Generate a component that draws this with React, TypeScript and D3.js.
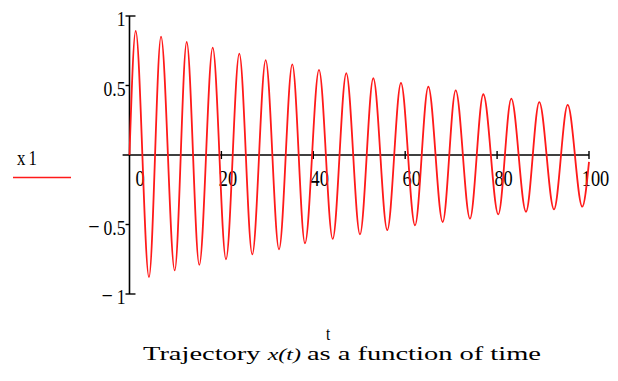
import React from "react";
import * as d3 from "d3";

// Extrema of the damped response x1(t), read at each peak and trough
const times = [
  0, 1.35, 4.24, 6.86, 9.84, 12.45, 15.19, 18.11, 21.0, 23.9, 26.72, 29.64,
  32.54, 35.43, 38.19, 41.24, 44.22, 47.18, 50.16, 53.06, 56.1, 59.08, 62.13,
  65.03, 68.16, 70.99, 74.1, 77.0, 80.26, 83.09, 86.29, 89.18, 92.38, 95.36,
  98.54, 100,
];
const x1 = [
  0.0, 0.892, -0.878, 0.851, -0.83, 0.813, -0.791, 0.772, -0.75, 0.729,
  -0.715, 0.683, -0.679, 0.652, -0.636, 0.612, -0.604, 0.588, -0.571, 0.552,
  -0.54, 0.518, -0.506, 0.491, -0.482, 0.465, -0.458, 0.437, -0.427, 0.405,
  -0.408, 0.381, -0.391, 0.36, -0.372, -0.05,
];

const xTicks = [0, 20, 40, 60, 80, 100];
const xTickLabels = ["0", "20", "40", "60", "80", "100"];
const yTicks = [1, 0.5, -0.5, -1];
const yTickLabels = ["1", "0.5", "0.5", "1"];

const W = 618;
const H = 381;
const FONT =
  '"Times New Roman", Times, "Liberation Serif", "DejaVu Serif", serif';
const RED = "#ff1a1a";
// horizontal condensing applied to labels so the serif face sits narrower
const SX = 0.8;

export default function App() {
  const x = d3.scaleLinear().domain([-1.5, 100]).range([122.6, 589]);
  const y = d3.scaleLinear().domain([-1, 1]).range([294, 16]);

  const pts = times.map((t, i) => [t, x1[i]] as [number, number]);
  const path = d3
    .line<[number, number]>()
    .x((d) => x(d[0]))
    .y((d) => y(d[1]))
    .curve(d3.curveMonotoneX)(pts);

  const x0 = x(0);
  const y0 = y(0);
  const txt = { fontFamily: FONT, fill: "#000" } as React.CSSProperties;

  return (
    <svg
      width={W}
      height={H}
      style={{ position: "absolute", left: 0, top: 0, background: "#fff" }}
    >
      <rect width={W} height={H} fill="#fff" />

      {/* axes */}
      <line x1={x(-1.5)} x2={x(100)} y1={y0} y2={y0} stroke="#000" strokeWidth={1.6} />
      <line x1={x0} x2={x0} y1={y(1)} y2={y(-1)} stroke="#000" strokeWidth={1.6} />

      {/* x ticks */}
      {xTicks.map((t, i) =>
        t === 0 ? null : (
          <line key={"xt" + i} x1={x(t)} x2={x(t)} y1={y0 - 4} y2={y0 + 4} stroke="#000" strokeWidth={1.4} />
        )
      )}
      {xTicks.map((t, i) => (
        <text
          key={"xl" + i}
          transform={`translate(${x(t) + (t === 0 ? 10.5 : 6.5)},186) scale(${SX},1)`}
          fontSize={23}
          textAnchor="middle"
          style={txt}
        >
          {xTickLabels[i]}
        </text>
      ))}

      {/* y ticks */}
      {yTicks.map((v, i) => (
        <line
          key={"yt" + i}
          x1={x0 - 4}
          x2={Math.abs(v) === 1 ? x0 + 6 : x0}
          y1={y(v)}
          y2={y(v)}
          stroke="#000"
          strokeWidth={1.4}
        />
      ))}
      {yTicks.map((v, i) => (
        <text
          key={"yl" + i}
          transform={`translate(125.5,${y(v) + 10}) scale(${SX},1)`}
          fontSize={22}
          textAnchor="end"
          style={txt}
        >
          {v < 0 ? <tspan fontSize={25}>{"\u2212"}</tspan> : null}
          {v < 0 ? <tspan dx={5}>{yTickLabels[i]}</tspan> : yTickLabels[i]}
        </text>
      ))}

      {/* trace */}
      <path d={path ?? ""} fill="none" stroke={RED} strokeWidth={1.8} strokeLinejoin="round" />

      {/* legend */}
      <text transform={`translate(17,165) scale(${SX},1)`} fontSize={21} letterSpacing={4} style={txt}>
        x1
      </text>
      <line x1={13} x2={71} y1={177.5} y2={177.5} stroke={RED} strokeWidth={1.5} />

      {/* axis name and caption */}
      <text transform={`translate(328,340) scale(${SX},1)`} fontSize={19} textAnchor="middle" style={txt}>
        t
      </text>
      <text
        x={342}
        y={360}
        fontSize={19}
        textAnchor="middle"
        textLength={398}
        lengthAdjust="spacingAndGlyphs"
        style={txt}
      >
        <tspan>Trajectory </tspan>
        <tspan fontStyle="italic" fontSize={16}>
          {" x(t) "}
        </tspan>
        <tspan> as a function of time</tspan>
      </text>
    </svg>
  );
}
